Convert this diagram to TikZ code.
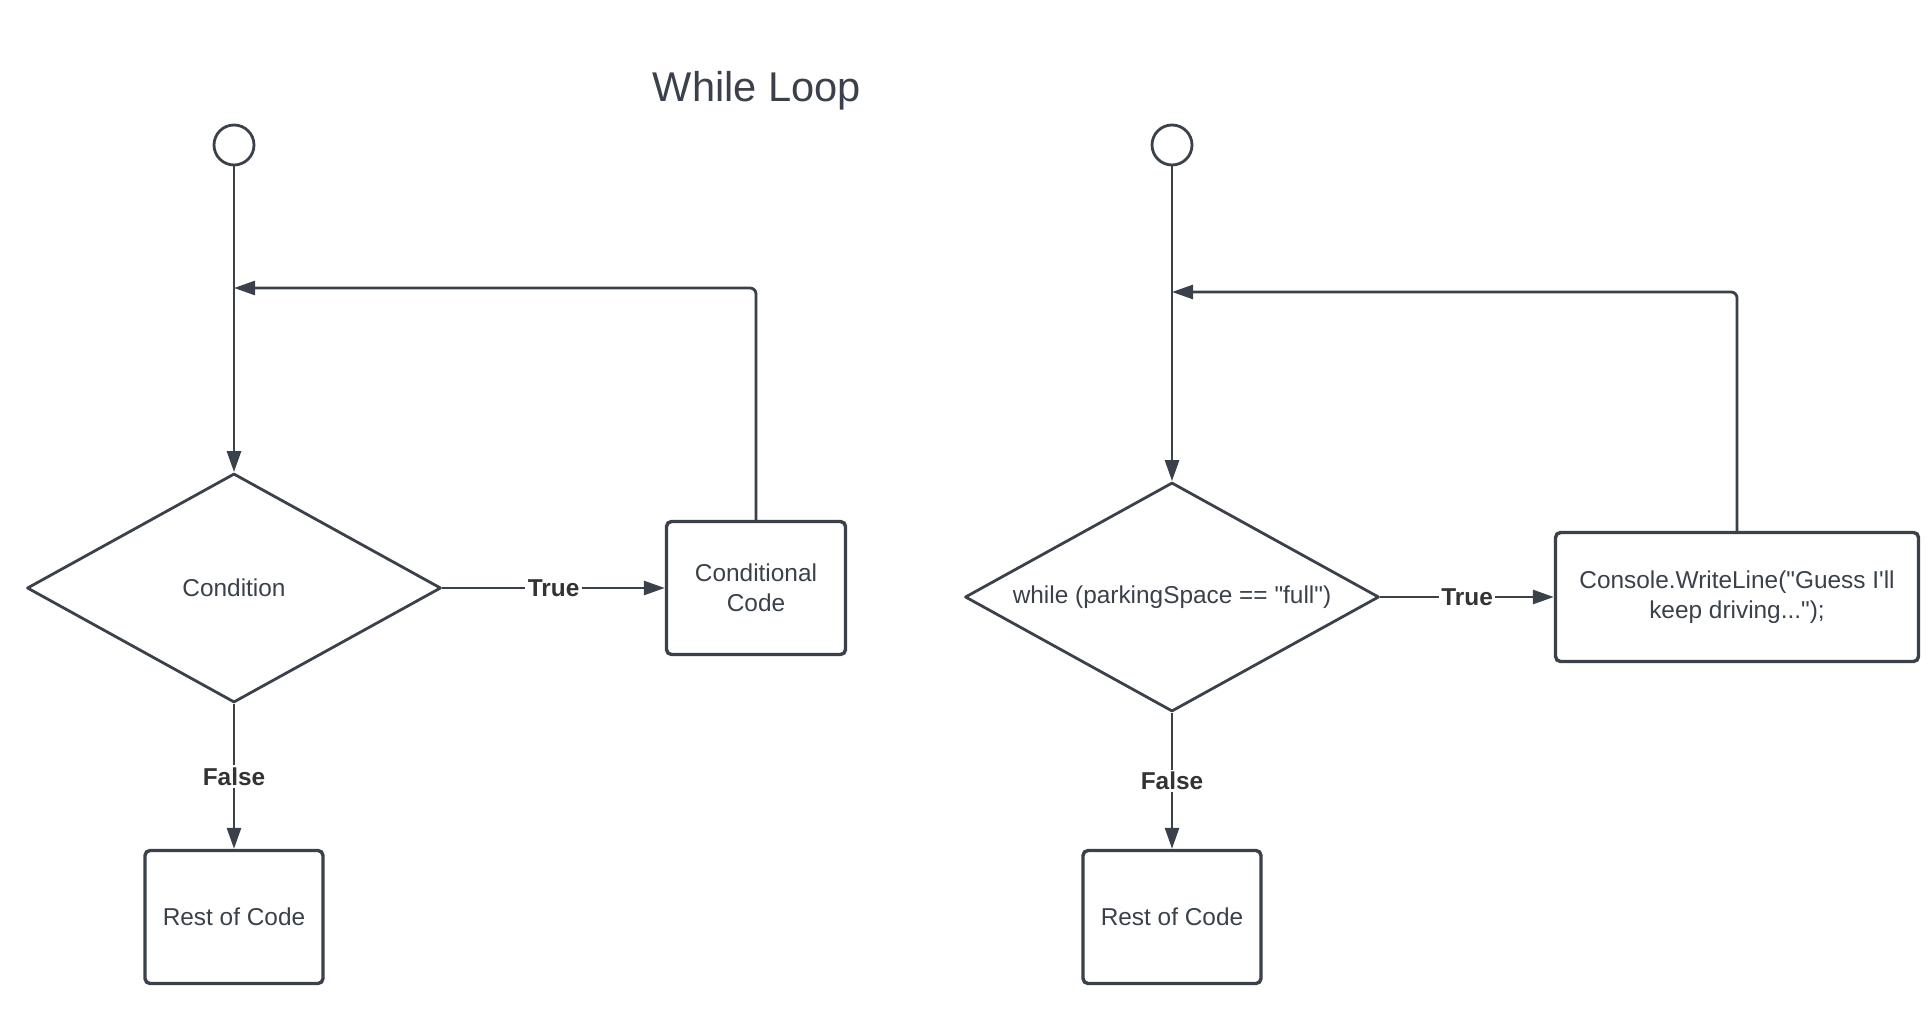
\documentclass[tikz,border=0pt]{standalone}
\usepackage{fontspec}
\newfontfamily\lcfont{Liberation Sans}
\usepackage{tikz}
\usetikzlibrary{shapes.geometric,arrows.meta,positioning}
\definecolor{lcline}{HTML}{3A414A}
\definecolor{lctext}{HTML}{333333}
\tikzset{
	startnode/.style={circle,draw=lcline,line width=1.4pt,minimum size=20pt,inner sep=0pt},
	decision/.style={diamond,aspect=1.81,draw=lcline,line width=1.4pt,line join=round,minimum width=207pt,minimum height=114.5pt,inner sep=0pt,text=lcline,font=\lcfont\fontsize{12.2}{14.8}\selectfont},
	codebox/.style={rectangle,draw=lcline,line width=1.7pt,rounded corners=2.5pt,minimum height=66.5pt,align=center,text=lcline,font=\lcfont\fontsize{12.2}{14.8}\selectfont},
	flow/.style={draw=lcline,line width=1.4pt,-{Triangle[length=10.5pt,width=7pt]}},
	answer/.style={fill=white,inner sep=1.2pt,text=lctext,font=\lcfont\bfseries\fontsize{12.2}{14.8}\selectfont}
}

\begin{document}
\begin{tikzpicture}[x=0.5pt,y=-0.5pt]
	\useasboundingbox (0,0) rectangle (1930,1021);
	
	\node[text=lcline,font=\lcfont\fontsize{20.8}{25}\selectfont] (T) at (757,91) {While Loop};
	
	% general loop
	\node[startnode] (S1) at (234,145) {};
	\node[decision] (D1) at (234,588) {Condition};
	\node[codebox,minimum width=89.5pt] (C1) at (756,588) {Conditional\\Code};
	\node[codebox,minimum width=89pt] (R1) at (234,917) {Rest of Code};
	\coordinate (J1) at (234,288);
	
	\draw[flow] (S1) -- (D1);
	\draw[flow] (D1) -- node[answer] {True} (C1);
	\draw[flow] (D1) -- node[answer] {False} (R1);
	\draw[flow,rounded corners=3pt] (C1.north) |- (J1);
	
	% parking example
	\node[startnode] (S2) at (1172,145) {};
	\node[decision] (D2) at (1172,597) {while (parkingSpace == "full")};
	\node[codebox,minimum width=181.5pt,minimum height=64.5pt] (C2) at (1737,597) {Console.WriteLine("Guess I'll\\keep driving...");};
	\node[codebox,minimum width=89pt] (R2) at (1172,917) {Rest of Code};
	\coordinate (J2) at (1172,292);
	
	\draw[flow] (S2) -- (D2);
	\draw[flow] (D2) -- node[answer] {True} (C2);
	\draw[flow] (D2) -- node[answer] {False} (R2);
	\draw[flow,rounded corners=3pt] (C2.north) |- (J2);
\end{tikzpicture}
\end{document}
